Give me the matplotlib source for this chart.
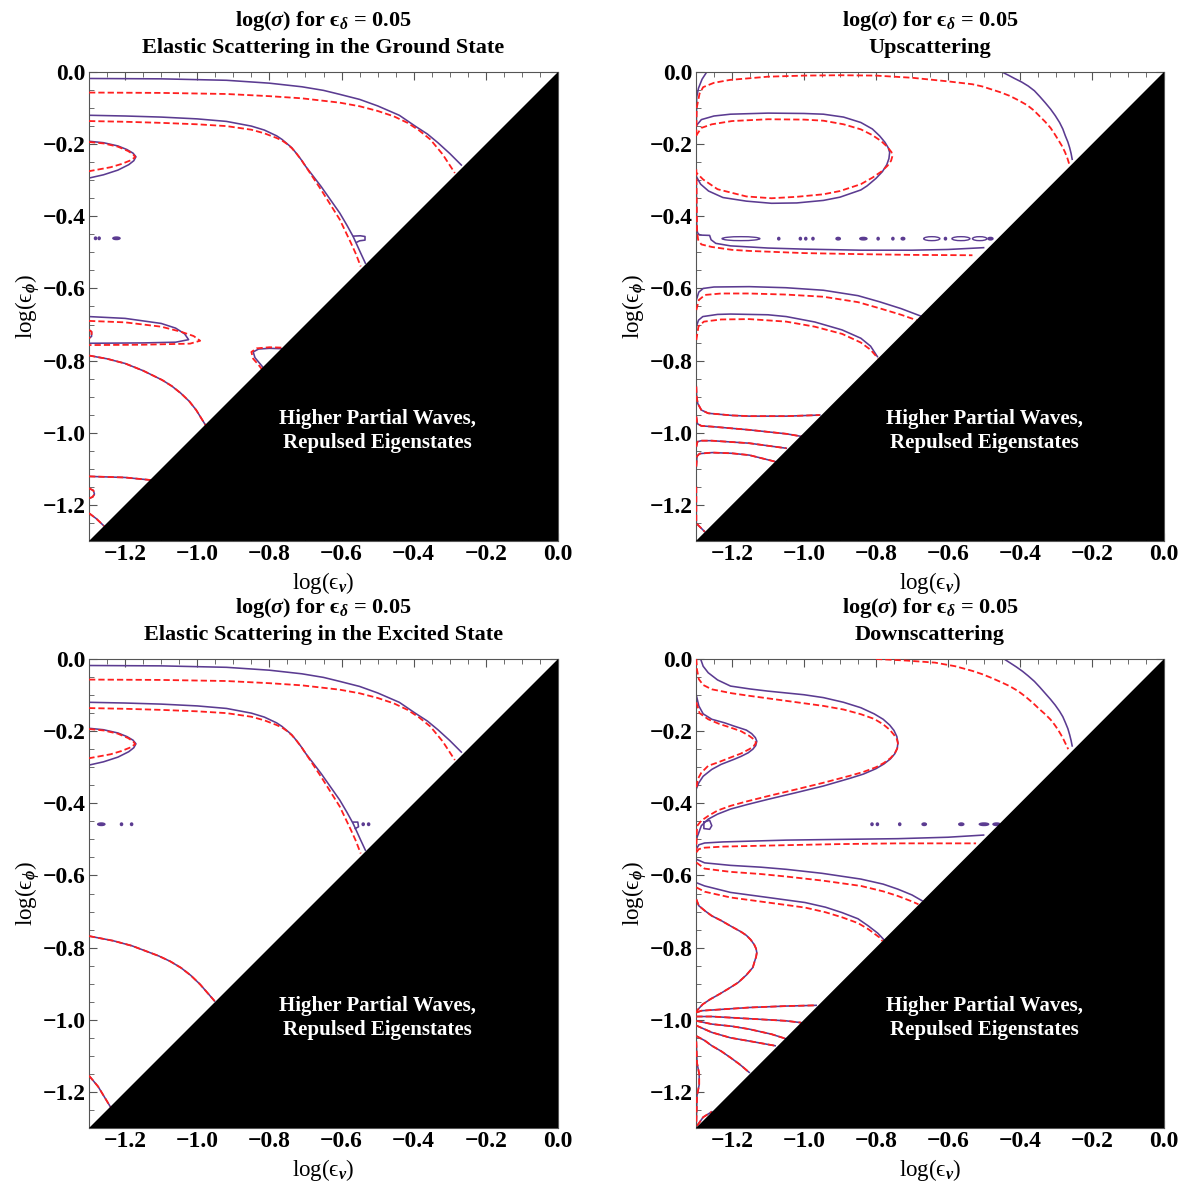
import matplotlib.pyplot as plt
from matplotlib.patches import Ellipse
from matplotlib.ticker import FixedLocator, FuncFormatter

plt.rcParams['font.family'] = ['Liberation Serif', 'DejaVu Serif']
plt.rcParams['font.weight'] = 'bold'
plt.rcParams['mathtext.fontset'] = 'custom'
plt.rcParams['mathtext.rm'] = 'Liberation Serif:bold'
plt.rcParams['mathtext.it'] = 'Liberation Serif:italic'
plt.rcParams['mathtext.bf'] = 'Liberation Serif:bold'
plt.rcParams['mathtext.fallback'] = 'stix'
plt.rcParams['lines.scale_dashes'] = False

# log10 range of both couplings
lo, hi = -1.3, 0.0
major_ticks = [-1.2, -1.0, -0.8, -0.6, -0.4, -0.2, 0.0]
minor_ticks = [-1.3 + 0.05 * i for i in range(27)]
eps_delta = 0.05
subtitles = ["Elastic Scattering in the Ground State", "Upscattering",
             "Elastic Scattering in the Excited State", "Downscattering"]
forbidden_label = "Higher Partial Waves,\nRepulsed Eigenstates"

# ---- contour traces (log eps_nu, log eps_phi) ----
# elastic channels: upper contours are the same in both states
el_solid_top = [(-1.3, -0.018), (-1.1, -0.019), (-0.919, -0.023), (-0.8, -0.031), (-0.71, -0.041),
                (-0.65, -0.051), (-0.605, -0.062), (-0.55, -0.076), (-0.5, -0.094), (-0.44, -0.12),
                (-0.396, -0.15), (-0.362, -0.172), (-0.333, -0.196), (-0.3, -0.226), (-0.268, -0.258)]
el_dash_top = [(-1.3, -0.057), (-1.1, -0.058), (-0.919, -0.061), (-0.8, -0.067), (-0.71, -0.073),
               (-0.605, -0.085), (-0.55, -0.095), (-0.5, -0.108), (-0.455, -0.123), (-0.417, -0.141),
               (-0.385, -0.162), (-0.354, -0.187), (-0.32, -0.228), (-0.286, -0.28)]
el_solid_mid = [(-1.3, -0.12), (-1.2, -0.122), (-1.1, -0.125), (-1.0, -0.13), (-0.919, -0.137),
                (-0.85, -0.15), (-0.814, -0.161), (-0.78, -0.177), (-0.765, -0.187), (-0.752, -0.198),
                (-0.738, -0.21), (-0.725, -0.226), (-0.712, -0.243), (-0.7, -0.261), (-0.657, -0.317),
                (-0.605, -0.391), (-0.585, -0.425), (-0.568, -0.456), (-0.557, -0.48), (-0.547, -0.502),
                (-0.534, -0.53)]
el_dash_mid = [(-1.3, -0.136), (-1.2, -0.138), (-1.1, -0.141), (-1.0, -0.145), (-0.919, -0.15),
               (-0.85, -0.16), (-0.814, -0.17), (-0.78, -0.183), (-0.765, -0.19), (-0.752, -0.199),
               (-0.738, -0.211), (-0.725, -0.226), (-0.712, -0.243), (-0.7, -0.261), (-0.657, -0.326),
               (-0.605, -0.409), (-0.574, -0.474), (-0.56, -0.505), (-0.547, -0.539)]
el_solid_lobe = [(-1.3, -0.192), (-1.26, -0.196), (-1.22, -0.205), (-1.195, -0.215), (-1.178, -0.225),
                 (-1.17, -0.235), (-1.176, -0.246), (-1.19, -0.257), (-1.22, -0.272), (-1.26, -0.285),
                 (-1.3, -0.294)]
el_dash_lobe = [(-1.3, -0.194), (-1.26, -0.198), (-1.22, -0.207), (-1.192, -0.219), (-1.178, -0.228),
                (-1.172, -0.236), (-1.185, -0.245), (-1.21, -0.255), (-1.24, -0.264), (-1.3, -0.275)]

gs_notch = [(-0.567, -0.455), (-0.548, -0.454), (-0.535, -0.456), (-0.535, -0.466), (-0.55, -0.468),
            (-0.558, -0.472)]
gs_solid_loop = [(-1.3, -0.678), (-1.2, -0.683), (-1.1, -0.697), (-1.06, -0.71), (-1.035, -0.726),
                 (-1.024, -0.742), (-1.06, -0.749), (-1.15, -0.751), (-1.3, -0.752)]
gs_dash_loop = [(-1.3, -0.69), (-1.2, -0.694), (-1.1, -0.706), (-1.045, -0.72), (-1.01, -0.732),
                (-0.992, -0.745), (-1.02, -0.753), (-1.15, -0.756), (-1.3, -0.757)]
gs_edge_loop = [(-1.3, -0.715), (-1.293, -0.72), (-1.293, -0.733), (-1.3, -0.738)]
gs_arc = [(-1.3, -0.786), (-1.25, -0.795), (-1.2, -0.808), (-1.15, -0.828), (-1.097, -0.854),
          (-1.07, -0.871), (-1.045, -0.891), (-1.022, -0.913), (-1.003, -0.937), (-0.977, -0.979)]
gs_solid_cap = [(-0.767, -0.767), (-0.8, -0.766), (-0.83, -0.768), (-0.845, -0.776), (-0.84, -0.792),
                (-0.825, -0.81), (-0.815, -0.822)]
gs_dash_cap = [(-0.767, -0.764), (-0.8, -0.763), (-0.835, -0.766), (-0.85, -0.776), (-0.845, -0.795),
               (-0.83, -0.812), (-0.82, -0.825)]
gs_low = [(-1.3, -1.121), (-1.2, -1.124), (-1.13, -1.131)]
gs_bump = [(-1.3, -1.154), (-1.288, -1.16), (-1.285, -1.17), (-1.29, -1.178), (-1.3, -1.182)]
gs_corner = [(-1.3, -1.223), (-1.28, -1.238), (-1.259, -1.258)]
gs_blob_x = [-1.282, -1.272, -1.224]
gs_blob_w = [0.006, 0.006, 0.02]
gs_blob_y = -0.461

ex_notch = [(-0.567, -0.452), (-0.555, -0.452), (-0.553, -0.465), (-0.562, -0.47)]
ex_arc = [(-1.3, -0.768), (-1.233, -0.781), (-1.181, -0.795), (-1.107, -0.823), (-1.075, -0.838),
          (-1.045, -0.856), (-1.018, -0.877), (-0.992, -0.902), (-0.952, -0.948)]
ex_corner = [(-1.3, -1.155), (-1.275, -1.185), (-1.241, -1.241)]
ex_blob_x = [-1.266, -1.21, -1.182, -0.54, -0.525]
ex_blob_w = [0.02, 0.006, 0.006, 0.006, 0.006]
ex_blob_y = -0.458

# upscattering
up_solid_edge = [(-1.27, 0.0), (-1.283, -0.02), (-1.293, -0.045), (-1.298, -0.07), (-1.299, -0.15)]
up_solid_right = [(-0.45, 0.0), (-0.432, -0.009), (-0.415, -0.018), (-0.395, -0.028), (-0.377, -0.039),
                  (-0.36, -0.052), (-0.345, -0.068), (-0.33, -0.085), (-0.315, -0.103), (-0.302, -0.121),
                  (-0.29, -0.14), (-0.281, -0.158), (-0.274, -0.177), (-0.267, -0.194), (-0.262, -0.21),
                  (-0.258, -0.226), (-0.255, -0.242)]
up_dash_outer = [(-1.299, -0.177), (-1.298, -0.1), (-1.29, -0.06), (-1.28, -0.042), (-1.25, -0.03),
                 (-1.206, -0.022), (-1.1, -0.013), (-1.0, -0.01), (-0.9, -0.009), (-0.8, -0.01),
                 (-0.7, -0.016), (-0.6, -0.026), (-0.532, -0.034), (-0.505, -0.04), (-0.48, -0.048),
                 (-0.455, -0.056), (-0.429, -0.066), (-0.405, -0.078), (-0.38, -0.092), (-0.362, -0.106),
                 (-0.346, -0.122), (-0.33, -0.138), (-0.315, -0.155), (-0.305, -0.17), (-0.295, -0.186),
                 (-0.284, -0.204), (-0.275, -0.222), (-0.268, -0.24), (-0.263, -0.256)]
up_solid_ring = [(-1.3, -0.15), (-1.285, -0.132), (-1.25, -0.122), (-1.204, -0.117), (-1.1, -0.114),
                 (-1.0, -0.115), (-0.946, -0.117), (-0.89, -0.125), (-0.842, -0.14), (-0.81, -0.158),
                 (-0.79, -0.177), (-0.775, -0.195), (-0.766, -0.21), (-0.762, -0.223), (-0.764, -0.24),
                 (-0.77, -0.257), (-0.782, -0.276), (-0.8, -0.295), (-0.825, -0.316), (-0.842, -0.327),
                 (-0.9, -0.347), (-0.946, -0.356), (-1.02, -0.363), (-1.09, -0.364), (-1.16, -0.358),
                 (-1.225, -0.348), (-1.265, -0.33), (-1.287, -0.311), (-1.3, -0.288)]
up_dash_ring = [(-1.3, -0.177), (-1.285, -0.155), (-1.256, -0.145), (-1.2, -0.136), (-1.1, -0.131),
                (-1.0, -0.132), (-0.946, -0.135), (-0.89, -0.145), (-0.842, -0.159), (-0.81, -0.175),
                (-0.785, -0.192), (-0.768, -0.208), (-0.757, -0.222), (-0.754, -0.232), (-0.758, -0.246),
                (-0.768, -0.26), (-0.785, -0.276), (-0.81, -0.293), (-0.842, -0.311), (-0.9, -0.33),
                (-0.946, -0.339), (-1.02, -0.346), (-1.09, -0.35), (-1.16, -0.345), (-1.24, -0.325),
                (-1.28, -0.298), (-1.299, -0.279)]
up_solid_band = [(-1.299, -0.29), (-1.298, -0.42), (-1.296, -0.445), (-1.29, -0.452), (-1.262, -0.453),
                 (-1.258, -0.465), (-1.245, -0.475), (-1.204, -0.482), (-1.1, -0.488), (-1.0, -0.491),
                 (-0.842, -0.494), (-0.7, -0.494), (-0.6, -0.492), (-0.501, -0.487)]
up_dash_band = [(-1.299, -0.27), (-1.297, -0.44), (-1.294, -0.465), (-1.285, -0.478), (-1.256, -0.485),
                (-1.2, -0.493), (-1.152, -0.496), (-1.0, -0.502), (-0.842, -0.505), (-0.7, -0.507),
                (-0.532, -0.508)]
up_solid_a = [(-1.299, -0.632), (-1.292, -0.61), (-1.28, -0.6), (-1.25, -0.596), (-1.152, -0.595),
              (-1.05, -0.598), (-0.946, -0.605), (-0.85, -0.62), (-0.79, -0.637), (-0.73, -0.656),
              (-0.677, -0.676)]
up_dash_a = [(-1.299, -0.66), (-1.292, -0.632), (-1.275, -0.618), (-1.23, -0.614), (-1.152, -0.614),
             (-1.05, -0.617), (-0.946, -0.623), (-0.85, -0.638), (-0.79, -0.655), (-0.73, -0.673),
             (-0.687, -0.688)]
up_solid_b = [(-1.299, -0.706), (-1.293, -0.688), (-1.281, -0.678), (-1.24, -0.672), (-1.204, -0.671),
              (-1.1, -0.673), (-1.049, -0.678), (-0.97, -0.693), (-0.894, -0.715), (-0.842, -0.738),
              (-0.815, -0.76), (-0.796, -0.789)]
up_dash_b = [(-1.299, -0.743), (-1.293, -0.705), (-1.278, -0.692), (-1.23, -0.686), (-1.152, -0.685),
             (-1.049, -0.692), (-0.97, -0.706), (-0.894, -0.726), (-0.842, -0.75), (-0.815, -0.77),
             (-0.794, -0.794)]
up_c = [(-1.299, -0.872), (-1.298, -0.9), (-1.295, -0.919), (-1.285, -0.937), (-1.266, -0.946),
        (-1.2, -0.952), (-1.152, -0.954), (-1.049, -0.954), (-0.956, -0.951)]
up_d = [(-1.299, -0.955), (-1.296, -0.975), (-1.285, -0.981), (-1.256, -0.983), (-1.152, -0.992),
        (-1.049, -1.003), (-1.002, -1.011)]
up_e = [(-1.299, -1.039), (-1.296, -1.025), (-1.285, -1.022), (-1.256, -1.022), (-1.152, -1.029),
        (-1.049, -1.043)]
up_f = [(-1.299, -1.094), (-1.297, -1.065), (-1.29, -1.058), (-1.255, -1.055), (-1.2, -1.057),
        (-1.152, -1.062), (-1.08, -1.08)]
up_g = [(-1.299, -1.15), (-1.299, -1.251), (-1.29, -1.26), (-1.276, -1.274)]
up_blob_x = [-1.175, -1.07, -1.01, -0.995, -0.975, -0.905, -0.835, -0.794, -0.753, -0.725,
             -0.645, -0.607, -0.564, -0.512, -0.482]
up_blob_w = [0.105, 0.005, 0.004, 0.004, 0.004, 0.012, 0.02, 0.005, 0.005, 0.01,
             0.045, 0.006, 0.05, 0.04, 0.014]
up_blob_y = -0.462

# downscattering
dn_solid_right = [(-0.444, 0.0), (-0.427, -0.011), (-0.41, -0.022), (-0.393, -0.034), (-0.377, -0.047),
                  (-0.36, -0.062), (-0.345, -0.078), (-0.33, -0.095), (-0.315, -0.112), (-0.302, -0.128),
                  (-0.29, -0.145), (-0.281, -0.16), (-0.274, -0.176), (-0.267, -0.193), (-0.262, -0.21),
                  (-0.258, -0.226), (-0.255, -0.241)]
dn_dash_right = [(-0.8, 0.0), (-0.72, -0.004), (-0.636, -0.01), (-0.58, -0.02), (-0.532, -0.033),
                 (-0.505, -0.042), (-0.48, -0.052), (-0.455, -0.063), (-0.429, -0.075), (-0.405, -0.089),
                 (-0.385, -0.104), (-0.365, -0.121), (-0.346, -0.139), (-0.33, -0.153), (-0.315, -0.168),
                 (-0.304, -0.182), (-0.295, -0.195), (-0.286, -0.21), (-0.278, -0.225), (-0.266, -0.25)]
dn_solid_bulge = [(-1.287, 0.0), (-1.28, -0.02), (-1.266, -0.038), (-1.24, -0.058), (-1.204, -0.075),
                  (-1.15, -0.083), (-1.1, -0.089), (-1.0, -0.099), (-0.946, -0.107), (-0.89, -0.12),
                  (-0.842, -0.135), (-0.805, -0.152), (-0.78, -0.167), (-0.762, -0.183), (-0.75, -0.198),
                  (-0.742, -0.215), (-0.739, -0.232), (-0.741, -0.248), (-0.748, -0.263), (-0.76, -0.277),
                  (-0.778, -0.291), (-0.8, -0.304), (-0.835, -0.319), (-0.87, -0.33), (-0.946, -0.352),
                  (-1.02, -0.37), (-1.1, -0.389), (-1.16, -0.404), (-1.204, -0.416), (-1.24, -0.43),
                  (-1.266, -0.444), (-1.285, -0.462), (-1.299, -0.5)]
dn_dash_bulge = [(-1.299, 0.0), (-1.297, -0.03), (-1.292, -0.056), (-1.28, -0.072), (-1.256, -0.084),
                 (-1.2, -0.095), (-1.152, -0.102), (-1.049, -0.116), (-0.946, -0.13), (-0.89, -0.14),
                 (-0.842, -0.153), (-0.805, -0.166), (-0.78, -0.181), (-0.762, -0.196), (-0.75, -0.21),
                 (-0.742, -0.222), (-0.739, -0.234), (-0.741, -0.248), (-0.748, -0.262), (-0.76, -0.275),
                 (-0.778, -0.288), (-0.8, -0.3), (-0.835, -0.313), (-0.87, -0.323), (-0.946, -0.343),
                 (-1.02, -0.361), (-1.1, -0.38), (-1.16, -0.395), (-1.204, -0.407), (-1.24, -0.42),
                 (-1.266, -0.435), (-1.285, -0.448), (-1.297, -0.463), (-1.299, -0.53)]
dn_solid_peak = [(-1.299, -0.1), (-1.292, -0.13), (-1.28, -0.152), (-1.256, -0.167), (-1.22, -0.177),
                 (-1.194, -0.186), (-1.16, -0.197), (-1.145, -0.207), (-1.135, -0.218), (-1.131, -0.228),
                 (-1.134, -0.24), (-1.142, -0.25), (-1.155, -0.26), (-1.175, -0.27), (-1.194, -0.278),
                 (-1.23, -0.292), (-1.256, -0.306), (-1.28, -0.325), (-1.292, -0.343), (-1.299, -0.36)]
dn_dash_peak = [(-1.299, -0.12), (-1.29, -0.15), (-1.266, -0.167), (-1.235, -0.18), (-1.204, -0.19),
                (-1.175, -0.2), (-1.152, -0.213), (-1.14, -0.222), (-1.133, -0.232), (-1.14, -0.242),
                (-1.152, -0.25), (-1.175, -0.262), (-1.204, -0.273), (-1.24, -0.287), (-1.266, -0.296),
                (-1.285, -0.315), (-1.295, -0.333), (-1.299, -0.36)]
dn_box = [(-1.278, -0.452), (-1.262, -0.447), (-1.256, -0.462), (-1.262, -0.472), (-1.278, -0.47),
          (-1.278, -0.452)]
dn_solid_a = [(-1.299, -0.527), (-1.292, -0.515), (-1.276, -0.51), (-1.225, -0.507), (-1.049, -0.502),
              (-0.9, -0.5), (-0.739, -0.498), (-0.6, -0.494), (-0.501, -0.488)]
dn_dash_a = [(-1.299, -0.536), (-1.292, -0.527), (-1.276, -0.523), (-1.225, -0.52), (-1.049, -0.516),
             (-0.9, -0.513), (-0.739, -0.511), (-0.6, -0.511), (-0.522, -0.511)]
dn_solid_b = [(-1.299, -0.555), (-1.276, -0.565), (-1.204, -0.572), (-1.12, -0.577), (-1.049, -0.583),
              (-0.95, -0.594), (-0.842, -0.61), (-0.78, -0.624), (-0.739, -0.638), (-0.7, -0.654),
              (-0.672, -0.67)]
dn_dash_b = [(-1.299, -0.564), (-1.276, -0.581), (-1.204, -0.59), (-1.12, -0.596), (-1.049, -0.603),
             (-0.95, -0.614), (-0.842, -0.629), (-0.78, -0.644), (-0.739, -0.657), (-0.7, -0.672),
             (-0.682, -0.68)]
dn_solid_c = [(-1.299, -0.62), (-1.276, -0.629), (-1.24, -0.638), (-1.204, -0.647), (-1.1, -0.661),
              (-0.997, -0.675), (-0.94, -0.688), (-0.894, -0.703), (-0.85, -0.72), (-0.821, -0.74),
              (-0.795, -0.76), (-0.778, -0.778)]
dn_dash_c = [(-1.299, -0.633), (-1.276, -0.645), (-1.24, -0.653), (-1.204, -0.661), (-1.1, -0.675),
             (-0.997, -0.689), (-0.94, -0.702), (-0.894, -0.716), (-0.85, -0.732), (-0.821, -0.749),
             (-0.79, -0.772), (-0.782, -0.782)]
dn_hump = [(-1.299, -0.666), (-1.292, -0.684), (-1.275, -0.698), (-1.256, -0.712), (-1.23, -0.725),
           (-1.204, -0.74), (-1.175, -0.756), (-1.16, -0.766), (-1.148, -0.778), (-1.138, -0.792),
           (-1.133, -0.803), (-1.131, -0.814), (-1.133, -0.826), (-1.137, -0.838), (-1.142, -0.855),
           (-1.16, -0.876), (-1.183, -0.897), (-1.21, -0.914), (-1.235, -0.929), (-1.26, -0.943),
           (-1.281, -0.957), (-1.295, -0.972), (-1.299, -0.98)]
dn_d = [(-1.299, -0.98), (-1.285, -0.975), (-1.256, -0.973), (-1.152, -0.966), (-1.049, -0.962),
        (-0.966, -0.96)]
dn_e = [(-1.299, -0.991), (-1.256, -0.991), (-1.152, -0.997), (-1.049, -1.003), (-1.008, -1.008)]
dn_f = [(-1.299, -1.003), (-1.256, -1.012), (-1.2, -1.018), (-1.152, -1.026), (-1.09, -1.04),
        (-1.049, -1.053)]
dn_g = [(-1.299, -1.016), (-1.256, -1.035), (-1.204, -1.05), (-1.152, -1.059), (-1.08, -1.072)]
dn_h = [(-1.299, -1.045), (-1.275, -1.058), (-1.256, -1.072), (-1.23, -1.087), (-1.204, -1.105),
        (-1.178, -1.124), (-1.152, -1.146)]
dn_edge = [(-1.299, -1.06), (-1.297, -1.12), (-1.291, -1.15), (-1.291, -1.18), (-1.297, -1.21),
           (-1.299, -1.29)]
dn_corner = [(-1.297, -1.294), (-1.28, -1.27), (-1.256, -1.255)]
dn_blob_x = [-0.811, -0.796, -0.734, -0.666, -0.563, -0.5, -0.465]
dn_blob_w = [0.004, 0.004, 0.005, 0.012, 0.014, 0.026, 0.02]
dn_blob_y = -0.458

# (solid purple traces, dashed red traces, blob centres, blob widths, blob row)
panels = [
    ([el_solid_top, el_solid_mid, el_solid_lobe, gs_notch, gs_solid_loop, gs_edge_loop, gs_arc,
      gs_solid_cap, gs_low, gs_bump, gs_corner],
     [el_dash_top, el_dash_mid, el_dash_lobe, gs_dash_loop, gs_edge_loop, gs_arc, gs_dash_cap,
      gs_low, gs_bump, gs_corner],
     gs_blob_x, gs_blob_w, gs_blob_y),
    ([up_solid_edge, up_solid_right, up_solid_ring, up_solid_band, up_solid_a, up_solid_b,
      up_c, up_d, up_e, up_f, up_g],
     [up_dash_outer, up_dash_ring, up_dash_band, up_dash_a, up_dash_b, up_c, up_d, up_e, up_f, up_g],
     up_blob_x, up_blob_w, up_blob_y),
    ([el_solid_top, el_solid_mid, el_solid_lobe, ex_notch, ex_arc, ex_corner],
     [el_dash_top, el_dash_mid, el_dash_lobe, ex_arc, ex_corner],
     ex_blob_x, ex_blob_w, ex_blob_y),
    ([dn_solid_right, dn_solid_bulge, dn_solid_peak, dn_box, dn_solid_a, dn_solid_b, dn_solid_c,
      dn_hump, dn_d, dn_e, dn_f, dn_g, dn_h, dn_edge, dn_corner],
     [dn_dash_right, dn_dash_bulge, dn_dash_peak, dn_dash_a, dn_dash_b, dn_dash_c,
      dn_hump, dn_d, dn_e, dn_f, dn_g, dn_h, dn_edge, dn_corner],
     dn_blob_x, dn_blob_w, dn_blob_y),
]

purple = '#5b3b91'
red = '#ff1f1f'
rects = [[0.0752, 0.5431, 0.3961, 0.3961], [0.5878, 0.5431, 0.3953, 0.3961],
         [0.0752, 0.0473, 0.3961, 0.3961], [0.5878, 0.0473, 0.3953, 0.3961]]

minus_fmt = FuncFormatter(lambda v, pos: f'{v:.1f}'.replace('-', '\u2212'))

fig = plt.figure(figsize=(11.84, 11.84), dpi=100)

for rect, sub, (solids, dashes, bx, bw, by) in zip(rects, subtitles, panels):
    ax = fig.add_axes(rect)
    for curve in solids:
        xs, ys = zip(*curve)
        ax.plot(xs, ys, color=purple, lw=1.15, zorder=2)
    for curve in dashes:
        xs, ys = zip(*curve)
        ax.plot(xs, ys, color=red, lw=1.3, dashes=(4.5, 2.2), zorder=3)
    for x, w in zip(bx, bw):
        hollow = w > 0.03
        ax.add_patch(Ellipse((x, by), max(w, 0.006), 0.011 if hollow else 0.007,
                             facecolor='none' if hollow else purple, edgecolor=purple,
                             lw=1.0, zorder=2))

    # region excluded from the s-wave treatment
    ax.fill([lo, hi, hi], [lo, hi, lo], color='black', lw=0, zorder=5)
    ax.text((lo + hi) / 2 + 0.15, -0.995, forbidden_label, color='white', fontsize=15,
            fontweight='bold', ha='center', va='center', linespacing=1.25, zorder=6)

    ax.set_xlim(lo, hi)
    ax.set_ylim(lo, hi)
    for a in (ax.xaxis, ax.yaxis):
        a.set_major_locator(FixedLocator(major_ticks))
        a.set_minor_locator(FixedLocator(minor_ticks))
        a.set_major_formatter(minus_fmt)
    ax.tick_params(which='both', direction='in', top=True, right=True, color='#555555',
                   labelsize=17, pad=2.5)
    ax.tick_params(which='major', length=6, width=0.8)
    ax.tick_params(which='minor', length=3.5, width=0.6)
    for sp in ax.spines.values():
        sp.set_color('#555555')
        sp.set_linewidth(0.8)

    ax.set_xlabel('log(\u03f5$_\\nu$)', fontsize=16.5, labelpad=3)
    ax.set_ylabel('log(\u03f5$_\\phi$)', fontsize=16.5, labelpad=0.5)
    ax.set_title(f'log($\\sigma$) for \u03f5$_\\delta$ = {eps_delta}\n{sub}',
                 fontsize=16, fontweight='bold', pad=14, linespacing=1.3)

fig.savefig('out.png', dpi=100)
